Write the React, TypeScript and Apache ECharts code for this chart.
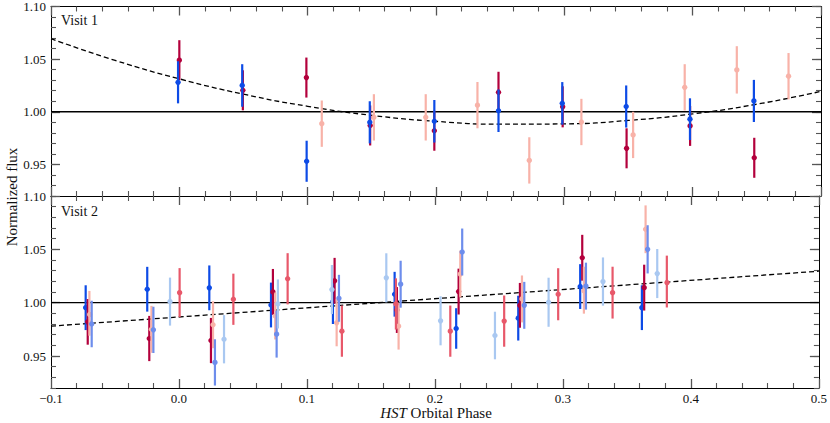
import React, { useEffect, useRef } from "react";
import * as echarts from "echarts";

// ---- data: [phase, flux, error] ----
const v1Blue = [
  [-0.001, 1.028, 0.02], [0.049, 1.025, 0.0202], [0.0992, 0.953, 0.0195], [0.1484, 0.99, 0.02],
  [0.1987, 0.991, 0.0202], [0.2487, 1.001, 0.0202], [0.2984, 1.008, 0.0202], [0.3482, 1.005, 0.02],
  [0.3979, 0.993, 0.0198], [0.4477, 1.0103, 0.02],
];
const v1DarkRed = [
  [0.0, 1.049, 0.019], [0.0495, 1.0204, 0.019], [0.099, 1.0325, 0.019], [0.1487, 0.987, 0.019],
  [0.1987, 0.982, 0.019], [0.2487, 1.0185, 0.0195], [0.2987, 1.0047, 0.0195], [0.3485, 0.9653, 0.019],
  [0.398, 0.9866, 0.019], [0.448, 0.9563, 0.019],
];
const v1Pink = [
  [0.111, 0.9887, 0.022], [0.1516, 0.9947, 0.022], [0.192, 0.9947, 0.022], [0.2323, 1.0063, 0.022],
  [0.2727, 0.9538, 0.022], [0.3133, 0.9903, 0.022], [0.3536, 0.978, 0.022], [0.3938, 1.0232, 0.022],
  [0.4344, 1.0398, 0.0225], [0.4747, 1.0338, 0.022],
];

const v2Blue = [
  [-0.0729, 0.9953, 0.021], [-0.0248, 1.0126, 0.021], [0.0237, 1.0139, 0.021], [0.0719, 0.9978, 0.021],
  [0.1203, 1.001, 0.021], [0.1685, 1.0079, 0.021], [0.2166, 0.9758, 0.019], [0.2651, 0.9855, 0.021],
  [0.3135, 1.0151, 0.021], [0.3617, 0.9953, 0.021],
];
const v2DarkRed = [
  [-0.0713, 0.982, 0.0214], [-0.0232, 0.9664, 0.0212], [0.025, 0.9645, 0.0212], [0.0734, 1.0101, 0.0215],
  [0.1216, 1.0205, 0.0215], [0.1703, 0.9931, 0.0215], [0.2185, 1.0104, 0.0215], [0.2664, 0.9975, 0.021],
  [0.3151, 1.0421, 0.0215], [0.3635, 1.0141, 0.0215],
];
const v2Pink = [
  [-0.07, 0.99, 0.021], [-0.0215, 0.975, 0.022], [0.0266, 0.9793, 0.022], [0.0752, 0.9875, 0.022],
  [0.1232, 0.9811, 0.022], [0.1716, 0.978, 0.022], [0.2198, 1.0268, 0.022], [0.268, 1.0035, 0.022],
  [0.3164, 1.0117, 0.022], [0.3646, 1.0688, 0.0224],
];
const v2Periwinkle = [
  [-0.0682, 0.98, 0.0218], [-0.02, 0.9745, 0.0217], [0.0281, 0.944, 0.0217], [0.0763, 0.9705, 0.022],
  [0.125, 1.0041, 0.022], [0.1732, 1.0173, 0.022], [0.2213, 1.0475, 0.022], [0.2698, 0.9975, 0.022],
  [0.318, 1.0155, 0.022], [0.3662, 1.05, 0.0226],
];
const v2LightBlue = [
  [-0.007, 1.001, 0.0225], [0.0352, 0.9657, 0.0226], [0.0773, 0.9988, 0.023], [0.1195, 1.0123, 0.023],
  [0.162, 1.0233, 0.023], [0.2044, 0.983, 0.023], [0.2469, 0.9692, 0.0223], [0.2888, 1.0004, 0.023],
  [0.3313, 1.0198, 0.0226], [0.3737, 1.0273, 0.023],
];
const v2MedRed = [
  [0.0005, 1.0094, 0.023], [0.0425, 1.0032, 0.024], [0.0849, 1.0224, 0.024], [0.1273, 0.9733, 0.024],
  [0.1695, 0.9988, 0.024], [0.212, 0.9733, 0.024], [0.2541, 0.9827, 0.024], [0.2963, 1.0079, 0.0244],
  [0.3388, 1.0094, 0.0243], [0.3812, 1.0198, 0.0243],
];

const v1Model = [
  [-0.1, 1.0694], [-0.05, 1.0488], [0.0, 1.0313], [0.05, 1.0167], [0.1, 1.0052], [0.15, 0.9966],
  [0.2, 0.9909], [0.25, 0.9882], [0.3, 0.9885], [0.35, 0.9918], [0.4, 0.998], [0.45, 1.0072], [0.5, 1.0194],
];
const v2Model = [[-0.1, 0.978], [0.5, 1.0295]];
const unityLine = [[-0.1, 1.0], [0.5, 1.0]];

const yMajorTicks = [0.95, 1.0, 1.05, 1.1];
const xRange = [-0.1, 0.5];
const yRange = [0.92, 1.1];

const C = {
  blue: "#0d4be6",
  darkRed: "#b3003c",
  pink: "#f8b2a8",
  periwinkle: "#6d8dec",
  lightBlue: "#a9c8f1",
  medRed: "#e8586a",
};

const FONT = "Liberation Serif";

export default function App() {
  const ref = useRef<HTMLDivElement>(null);

  useEffect(() => {
    document.body.style.margin = "0";
    const chart = echarts.init(ref.current!, undefined, { renderer: "svg" });

    const grids = [
      { left: 51, right: 9, top: 5, height: 191 },
      { left: 51, right: 9, top: 196, height: 192 },
    ];

    const xAxes: any[] = [];
    const yAxes: any[] = [];
    grids.forEach((_, g) => {
      ["bottom", "top"].forEach((pos) => {
        xAxes.push({
          type: "value",
          gridIndex: g,
          position: pos,
          min: xRange[0],
          max: xRange[1],
          interval: 0.1,
          splitLine: { show: false },
          axisLine: { show: true, onZero: false, lineStyle: { color: "#000", width: 1 } },
          axisTick: { show: true, inside: true, length: 9, lineStyle: { color: "#555", width: 1.3 } },
          minorTick: { show: true, splitNumber: 5, length: 5, lineStyle: { color: "#555", width: 1.1 } },
          axisLabel: {
            show: g === 1 && pos === "bottom",
            fontFamily: FONT,
            fontSize: 13,
            color: "#111",
            margin: 4,
            formatter: (v: number) => (v < 0 ? "\u2212" + Math.abs(v).toFixed(1) : v.toFixed(1)),
          },
        });
      });
      ["left", "right"].forEach((pos) => {
        yAxes.push({
          type: "value",
          gridIndex: g,
          position: pos,
          min: yRange[0],
          max: yRange[1],
          splitLine: { show: false },
          axisLine: { show: true, onZero: false, lineStyle: { color: "#000", width: 1 } },
          axisTick: {
            show: true,
            inside: true,
            length: 9,
            customValues: yMajorTicks,
            lineStyle: { color: "#555", width: 1.3 },
          },
          axisLabel: {
            show: pos === "left",
            customValues: yMajorTicks,
            fontFamily: FONT,
            fontSize: 13,
            color: "#111",
            margin: 5,
            formatter: (v: number) => v.toFixed(2),
          },
        });
        yAxes.push({
          type: "value",
          gridIndex: g,
          position: pos,
          min: yRange[0],
          max: yRange[1],
          interval: 0.01,
          splitLine: { show: false },
          axisLine: { show: false, onZero: false },
          axisTick: { show: true, inside: true, length: 5, lineStyle: { color: "#555", width: 1.1 } },
          axisLabel: { show: false },
        });
      });
    });

    const errSeries = (data: number[][], color: string, g: number, z: number) => ({
      type: "custom",
      xAxisIndex: 2 * g,
      yAxisIndex: 4 * g,
      data,
      z,
      encode: { x: 0, y: 1 },
      renderItem: (_p: any, api: any) => {
        const x = api.value(0);
        const y = api.value(1);
        const e = api.value(2);
        const top = api.coord([x, y + e]);
        const bot = api.coord([x, y - e]);
        const c = api.coord([x, y]);
        return {
          type: "group",
          children: [
            {
              type: "line",
              shape: { x1: top[0], y1: top[1], x2: bot[0], y2: bot[1] },
              style: { stroke: color, lineWidth: 2.2 },
            },
            { type: "circle", shape: { cx: c[0], cy: c[1], r: 2.7 }, style: { fill: color } },
          ],
        };
      },
    });

    const lineSeries = (data: number[][], g: number, dashed: boolean, smooth: boolean) => ({
      type: "line",
      xAxisIndex: 2 * g,
      yAxisIndex: 4 * g,
      data,
      smooth,
      symbol: "none",
      z: 1,
      lineStyle: { color: "#000", width: dashed ? 1.3 : 1.4, type: dashed ? [5, 3] : "solid" },
    });

    const series: any[] = [
      lineSeries(unityLine, 0, false, false),
      lineSeries(v1Model, 0, true, true),
      lineSeries(unityLine, 1, false, false),
      lineSeries(v2Model, 1, true, false),
      errSeries(v1Pink, C.pink, 0, 2),
      errSeries(v1DarkRed, C.darkRed, 0, 3),
      errSeries(v1Blue, C.blue, 0, 4),
      errSeries(v2Blue, C.blue, 1, 2),
      errSeries(v2DarkRed, C.darkRed, 1, 3),
      errSeries(v2Pink, C.pink, 1, 4),
      errSeries(v2Periwinkle, C.periwinkle, 1, 5),
      errSeries(v2LightBlue, C.lightBlue, 1, 6),
      errSeries(v2MedRed, C.medRed, 1, 7),
    ];

    chart.setOption({
      animation: false,
      backgroundColor: "#fff",
      grid: grids,
      xAxis: xAxes,
      yAxis: yAxes,
      series,
      graphic: [
        {
          type: "text",
          x: 61,
          y: 20,
          style: { text: "Visit 1", fontFamily: FONT, fontSize: 14, fill: "#111", verticalAlign: "middle" },
        },
        {
          type: "text",
          x: 61,
          y: 211.5,
          style: { text: "Visit 2", fontFamily: FONT, fontSize: 14, fill: "#111", verticalAlign: "middle" },
        },
        {
          type: "text",
          x: 12,
          y: 197,
          rotation: Math.PI / 2,
          style: {
            text: "Normalized flux",
            fontFamily: FONT,
            fontSize: 15,
            fill: "#111",
            align: "center",
            verticalAlign: "middle",
          },
        },
        {
          type: "text",
          x: 436,
          y: 413,
          style: {
            text: "{i|HST} Orbital Phase",
            fontFamily: FONT,
            fontSize: 15,
            fill: "#111",
            align: "center",
            verticalAlign: "middle",
            rich: { i: { fontStyle: "italic", fontFamily: FONT, fontSize: 15, fill: "#111" } },
          },
        },
      ],
    });

    return () => chart.dispose();
  }, []);

  return <div ref={ref} style={{ width: 830, height: 423 }} />;
}
